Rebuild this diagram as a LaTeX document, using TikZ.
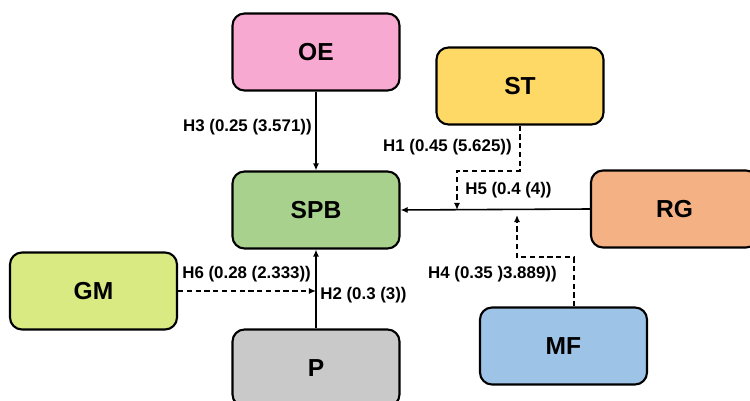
\documentclass[tikz,border=0pt]{standalone}
\usepackage{fontspec}
\setmainfont{Liberation Sans}
\usetikzlibrary{arrows.meta}

\definecolor{oecol}{HTML}{F8A9D1}
\definecolor{stcol}{HTML}{FFD966}
\definecolor{spbcol}{HTML}{A9D18E}
\definecolor{rgcol}{HTML}{F4B183}
\definecolor{gmcol}{HTML}{D9EA82}
\definecolor{pcol}{HTML}{C9C9C9}
\definecolor{mfcol}{HTML}{9DC3E6}

\tikzset{
  factor/.style={draw=black,line width=1.2pt,rounded corners=0.24cm,
    minimum width=3.34cm,minimum height=1.54cm,
    font=\fontsize{14}{16}\selectfont\bfseries},
  hyp/.style={font=\fontsize{9.6}{11}\selectfont\bfseries,inner sep=0pt},
  solidarrow/.style={line width=0.9pt,-{Latex[length=4pt,width=3.5pt]}},
  dasharrow/.style={line width=1.1pt,dash pattern=on 3pt off 2pt,
    -{Latex[length=4pt,width=3.5pt]}}
}

\begin{document}
\begin{tikzpicture}
  \useasboundingbox (0,0) rectangle (15,8.02);
  % boxes
  \node[factor,fill=oecol] (oe) at (6.32,6.98) {OE};
  \node[factor,fill=stcol] (st) at (10.40,6.30) {ST};
  \node[factor,fill=spbcol] (spb) at (6.32,3.82) {SPB};
  \node[factor,fill=rgcol] (rg) at (13.49,3.84) {RG};
  \node[factor,fill=gmcol] (gm) at (1.87,2.20) {GM};
  \node[factor,fill=pcol] (p) at (6.32,0.66) {P};
  \node[factor,fill=mfcol] (mf) at (11.27,1.10) {MF};

  % end points on the main paths
  \coordinate (h1end) at (9.14,3.82);
  \coordinate (h4end) at (10.34,3.72);
  \coordinate (h6end) at (6.32,2.20);

  % direct effects
  \draw[solidarrow] (oe) -- (spb);
  \draw[solidarrow] (p) -- (spb);
  \draw[solidarrow] (rg.west) -- (spb.east);

  % moderating effects
  \draw[dasharrow] (st.south) -- ++(0,-0.9) -| (h1end);
  \draw[dasharrow] ([xshift=0.21cm]mf.north) -- ++(0,0.98) -| (h4end);
  \draw[dasharrow] (gm.east) -- (h6end);

  % labels
  \node[hyp,anchor=east] (lh3) at (6.24,5.48) {H3 (0.25 (3.571))};
  \node[hyp,anchor=east] (lh1) at (10.24,5.08) {H1 (0.45 (5.625))};
  \node[hyp,anchor=west] (lh5) at (9.30,4.22) {H5 (0.4 (4))};
  \node[hyp,anchor=east] (lh4) at (11.14,2.54) {H4 (0.35 )3.889))};
  \node[hyp,anchor=west] (lh6) at (3.64,2.54) {H6 (0.28 (2.333))};
  \node[hyp,anchor=west] (lh2) at (6.40,2.12) {H2 (0.3 (3))};
\end{tikzpicture}
\end{document}
